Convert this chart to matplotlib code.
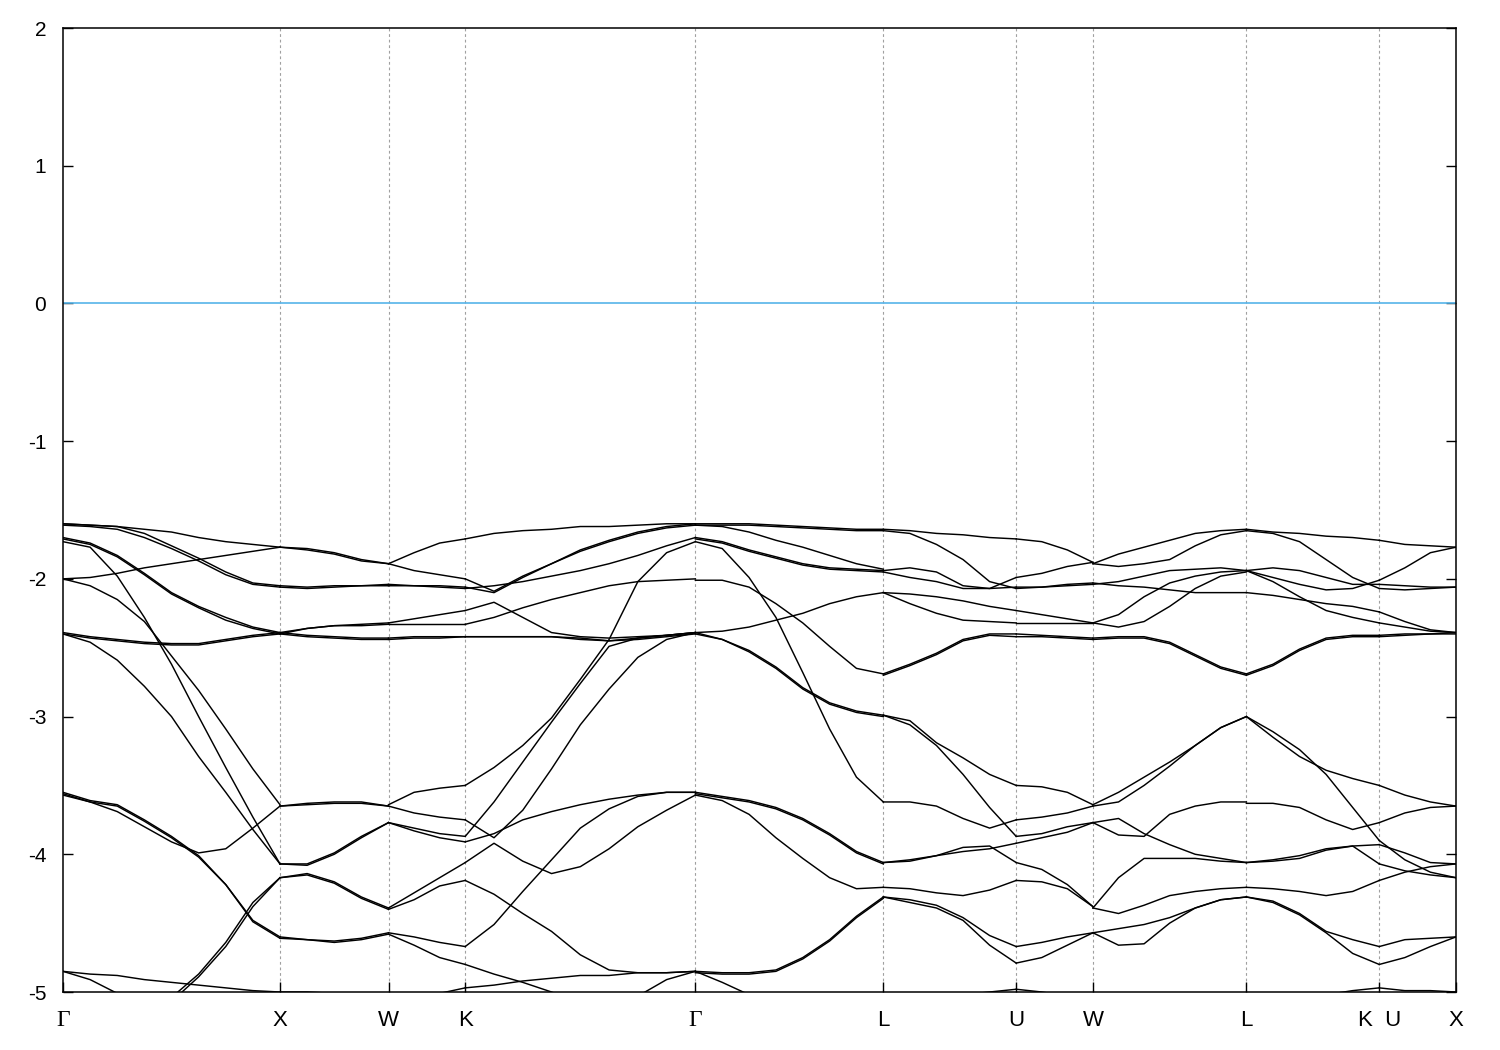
import numpy as np
import matplotlib
matplotlib.use("Agg")
import matplotlib.pyplot as plt

plt.rcParams["axes.unicode_minus"] = False

# high-symmetry points along the FCC path (Gamma-X = 1)
labels = ["Γ", "X", "W", "K", "Γ", "L", "U", "W", "L", "K  U", "X"]
kpos = [0.0, 1.0, 1.5, 1.8536, 2.9142, 3.7802, 4.3926, 4.7462, 5.4533, 6.0657, 6.4193]

# band energies (eV) read per path segment
seg_gx = [
    [-1.60, -1.61, -1.62, -1.64, -1.66, -1.70, -1.73, -1.75, -1.77],
    [-1.60, -1.61, -1.62, -1.67, -1.76, -1.85, -1.95, -2.03, -2.05],
    [-1.61, -1.62, -1.64, -1.70, -1.78, -1.87, -1.97, -2.04, -2.06],
    [-2.00, -1.99, -1.96, -1.92, -1.89, -1.86, -1.83, -1.80, -1.77],
    [-1.70, -1.74, -1.83, -1.96, -2.10, -2.20, -2.28, -2.35, -2.39],
    [-1.71, -1.75, -1.84, -1.97, -2.11, -2.21, -2.30, -2.36, -2.40],
    [-1.73, -1.77, -1.98, -2.28, -2.62, -3.00, -3.37, -3.73, -4.07],
    [-2.00, -2.05, -2.15, -2.31, -2.56, -2.81, -3.09, -3.38, -3.64],
    [-2.39, -2.42, -2.44, -2.46, -2.47, -2.47, -2.44, -2.41, -2.39],
    [-2.40, -2.43, -2.45, -2.47, -2.48, -2.48, -2.45, -2.42, -2.40],
    [-2.40, -2.46, -2.59, -2.78, -3.00, -3.29, -3.55, -3.82, -4.07],
    [-3.57, -3.62, -3.69, -3.80, -3.91, -3.99, -3.96, -3.81, -3.65],
    [-3.55, -3.61, -3.64, -3.75, -3.87, -4.01, -4.22, -4.48, -4.60],
    [-3.56, -3.62, -3.65, -3.76, -3.88, -4.02, -4.22, -4.49, -4.61],
    [-5.64, -5.58, -5.44, -5.25, -5.04, -4.87, -4.64, -4.35, -4.17],
    [-5.66, -5.60, -5.46, -5.27, -5.07, -4.89, -4.67, -4.38, -4.17],
    [-4.85, -4.87, -4.88, -4.91, -4.93, -4.95, -4.97, -4.99, -5.00],
    [-4.85, -4.91, -5.01, -5.13, -5.28, -5.38, -5.46, -5.49, -5.51],
]

seg_xw = [
    [-1.77, -1.78, -1.81, -1.86, -1.89],
    [-1.77, -1.79, -1.82, -1.87, -1.89],
    [-2.05, -2.06, -2.05, -2.05, -2.04],
    [-2.06, -2.07, -2.06, -2.05, -2.05],
    [-2.39, -2.36, -2.34, -2.33, -2.32],
    [-2.40, -2.36, -2.34, -2.34, -2.33],
    [-2.39, -2.41, -2.42, -2.43, -2.43],
    [-2.40, -2.42, -2.43, -2.44, -2.44],
    [-3.65, -3.63, -3.62, -3.62, -3.65],
    [-3.65, -3.64, -3.63, -3.63, -3.65],
    [-4.07, -4.07, -3.99, -3.87, -3.77],
    [-4.07, -4.08, -4.00, -3.88, -3.77],
    [-4.17, -4.14, -4.20, -4.31, -4.39],
    [-4.17, -4.15, -4.21, -4.32, -4.40],
    [-4.60, -4.62, -4.63, -4.61, -4.57],
    [-4.61, -4.62, -4.64, -4.62, -4.58],
    [-5.00, -5.00, -5.01, -5.02, -5.02],
]

seg_wk = [
    [-1.89, -1.81, -1.74, -1.71],
    [-1.89, -1.94, -1.97, -2.00],
    [-2.04, -2.05, -2.05, -2.06],
    [-2.05, -2.05, -2.06, -2.07],
    [-2.32, -2.29, -2.26, -2.23],
    [-2.33, -2.33, -2.33, -2.33],
    [-2.43, -2.42, -2.42, -2.42],
    [-2.44, -2.43, -2.43, -2.42],
    [-3.64, -3.55, -3.52, -3.50],
    [-3.65, -3.70, -3.73, -3.75],
    [-3.77, -3.81, -3.85, -3.87],
    [-3.77, -3.83, -3.88, -3.91],
    [-4.39, -4.28, -4.17, -4.06],
    [-4.40, -4.33, -4.23, -4.19],
    [-4.57, -4.60, -4.64, -4.67],
    [-4.58, -4.66, -4.75, -4.80],
    [-5.02, -5.02, -5.01, -4.97],
]

seg_kg = [
    [-1.71, -1.67, -1.65, -1.64, -1.62, -1.62, -1.61, -1.60, -1.60],
    [-2.00, -2.09, -1.98, -1.89, -1.79, -1.72, -1.66, -1.62, -1.60],
    [-2.06, -2.10, -1.99, -1.89, -1.80, -1.73, -1.67, -1.63, -1.61],
    [-2.07, -2.05, -2.02, -1.98, -1.94, -1.89, -1.83, -1.76, -1.70],
    [-2.33, -2.28, -2.21, -2.15, -2.10, -2.05, -2.02, -2.01, -2.00],
    [-2.23, -2.17, -2.28, -2.39, -2.42, -2.43, -2.42, -2.41, -2.39],
    [-2.42, -2.42, -2.42, -2.42, -2.43, -2.45, -2.43, -2.41, -2.39],
    [-2.42, -2.42, -2.42, -2.42, -2.44, -2.45, -2.44, -2.42, -2.40],
    [-3.50, -3.37, -3.21, -3.01, -2.73, -2.44, -2.02, -1.81, -1.73],
    [-3.87, -3.62, -3.33, -3.04, -2.76, -2.49, -2.43, -2.41, -2.39],
    [-3.75, -3.88, -3.68, -3.38, -3.06, -2.80, -2.57, -2.44, -2.39],
    [-3.91, -3.85, -3.75, -3.69, -3.64, -3.60, -3.57, -3.55, -3.55],
    [-4.06, -3.92, -4.05, -4.14, -4.09, -3.96, -3.80, -3.68, -3.57],
    [-4.19, -4.29, -4.43, -4.56, -4.73, -4.84, -4.86, -4.86, -4.85],
    [-4.67, -4.51, -4.27, -4.04, -3.81, -3.67, -3.58, -3.55, -3.55],
    [-4.80, -4.87, -4.93, -5.00, -5.08, -5.12, -5.03, -4.91, -4.85],
    [-4.97, -4.95, -4.92, -4.90, -4.88, -4.88, -4.86, -4.86, -4.85],
]

seg_gl = [
    [-1.60, -1.60, -1.60, -1.61, -1.62, -1.63, -1.64, -1.64],
    [-1.61, -1.61, -1.61, -1.62, -1.63, -1.64, -1.65, -1.65],
    [-1.61, -1.62, -1.66, -1.72, -1.77, -1.83, -1.89, -1.93],
    [-1.70, -1.73, -1.79, -1.84, -1.89, -1.92, -1.93, -1.94],
    [-1.71, -1.74, -1.80, -1.85, -1.90, -1.93, -1.94, -1.95],
    [-1.73, -1.78, -1.99, -2.28, -2.68, -3.09, -3.44, -3.62],
    [-2.01, -2.01, -2.06, -2.18, -2.32, -2.49, -2.65, -2.69],
    [-2.39, -2.38, -2.35, -2.30, -2.25, -2.18, -2.13, -2.10],
    [-2.39, -2.44, -2.52, -2.64, -2.79, -2.90, -2.96, -2.99],
    [-2.40, -2.44, -2.53, -2.65, -2.80, -2.91, -2.97, -3.00],
    [-3.55, -3.58, -3.61, -3.66, -3.74, -3.85, -3.98, -4.06],
    [-3.56, -3.59, -3.62, -3.67, -3.75, -3.86, -3.99, -4.07],
    [-3.57, -3.61, -3.71, -3.88, -4.03, -4.17, -4.25, -4.24],
    [-4.85, -4.86, -4.86, -4.84, -4.75, -4.62, -4.45, -4.31],
    [-4.86, -4.87, -4.87, -4.85, -4.76, -4.63, -4.46, -4.32],
    [-4.85, -4.93, -5.02, -5.09, -5.14, -5.17, -5.17, -5.17],
]

seg_lu = [
    [-1.64, -1.65, -1.67, -1.68, -1.70, -1.71],
    [-1.65, -1.67, -1.75, -1.86, -2.02, -2.07],
    [-1.94, -1.92, -1.95, -2.05, -2.07, -1.99],
    [-1.95, -1.99, -2.02, -2.07, -2.07, -2.06],
    [-2.10, -2.11, -2.13, -2.16, -2.20, -2.23],
    [-2.10, -2.18, -2.25, -2.30, -2.31, -2.32],
    [-2.69, -2.62, -2.54, -2.44, -2.40, -2.40],
    [-2.70, -2.63, -2.55, -2.45, -2.41, -2.42],
    [-2.99, -3.03, -3.19, -3.30, -3.42, -3.50],
    [-2.99, -3.06, -3.21, -3.42, -3.66, -3.87],
    [-3.62, -3.62, -3.65, -3.74, -3.81, -3.75],
    [-4.06, -4.04, -4.01, -3.95, -3.94, -4.06],
    [-4.06, -4.05, -4.01, -3.98, -3.96, -3.92],
    [-4.24, -4.25, -4.28, -4.30, -4.26, -4.19],
    [-4.31, -4.33, -4.37, -4.46, -4.59, -4.67],
    [-4.31, -4.35, -4.39, -4.48, -4.66, -4.79],
    [-5.13, -5.09, -5.06, -5.02, -5.00, -4.98],
]

seg_uw = [
    [-1.71, -1.73, -1.79, -1.88],
    [-1.99, -1.96, -1.91, -1.88],
    [-2.07, -2.06, -2.04, -2.03],
    [-2.06, -2.06, -2.05, -2.04],
    [-2.23, -2.26, -2.29, -2.32],
    [-2.32, -2.32, -2.32, -2.32],
    [-2.40, -2.41, -2.42, -2.43],
    [-2.42, -2.42, -2.43, -2.44],
    [-3.50, -3.51, -3.55, -3.64],
    [-3.87, -3.85, -3.80, -3.77],
    [-3.75, -3.73, -3.70, -3.65],
    [-4.06, -4.11, -4.22, -4.38],
    [-3.92, -3.88, -3.84, -3.77],
    [-4.19, -4.20, -4.25, -4.38],
    [-4.67, -4.64, -4.60, -4.57],
    [-4.79, -4.75, -4.66, -4.57],
    [-4.98, -5.00, -5.03, -5.06],
]

seg_wl = [
    [-1.89, -1.82, -1.77, -1.72, -1.67, -1.65, -1.64],
    [-1.89, -1.91, -1.89, -1.86, -1.76, -1.68, -1.65],
    [-2.03, -2.05, -2.06, -2.08, -2.10, -2.10, -2.10],
    [-2.04, -2.02, -1.98, -1.94, -1.93, -1.92, -1.94],
    [-2.32, -2.26, -2.13, -2.03, -1.98, -1.95, -1.94],
    [-2.32, -2.35, -2.31, -2.20, -2.07, -1.98, -1.95],
    [-2.43, -2.42, -2.42, -2.46, -2.55, -2.64, -2.69],
    [-2.44, -2.43, -2.43, -2.47, -2.56, -2.65, -2.70],
    [-3.64, -3.55, -3.44, -3.33, -3.21, -3.08, -3.00],
    [-3.65, -3.62, -3.50, -3.36, -3.21, -3.08, -3.00],
    [-3.77, -3.74, -3.85, -3.93, -4.00, -4.03, -4.06],
    [-3.77, -3.86, -3.87, -3.71, -3.65, -3.62, -3.62],
    [-4.39, -4.43, -4.37, -4.30, -4.27, -4.25, -4.24],
    [-4.39, -4.17, -4.03, -4.03, -4.03, -4.05, -4.06],
    [-4.57, -4.54, -4.51, -4.46, -4.39, -4.33, -4.31],
    [-4.57, -4.66, -4.65, -4.50, -4.39, -4.33, -4.31],
]

seg_lk = [
    [-1.64, -1.66, -1.67, -1.69, -1.70, -1.72],
    [-1.65, -1.67, -1.73, -1.86, -1.99, -2.07],
    [-1.94, -1.92, -1.94, -1.99, -2.04, -2.04],
    [-1.94, -1.99, -2.04, -2.08, -2.07, -2.01],
    [-1.94, -2.02, -2.13, -2.23, -2.28, -2.32],
    [-2.10, -2.12, -2.15, -2.18, -2.20, -2.24],
    [-2.69, -2.62, -2.51, -2.43, -2.41, -2.41],
    [-2.70, -2.63, -2.52, -2.44, -2.42, -2.42],
    [-3.00, -3.15, -3.29, -3.39, -3.45, -3.50],
    [-3.00, -3.11, -3.24, -3.42, -3.66, -3.90],
    [-3.63, -3.63, -3.66, -3.75, -3.82, -3.77],
    [-4.06, -4.04, -4.01, -3.96, -3.94, -4.07],
    [-4.06, -4.05, -4.03, -3.97, -3.94, -3.93],
    [-4.24, -4.25, -4.27, -4.30, -4.27, -4.19],
    [-4.31, -4.34, -4.43, -4.56, -4.62, -4.67],
    [-4.31, -4.35, -4.44, -4.57, -4.72, -4.80],
    [-5.13, -5.09, -5.06, -5.02, -4.99, -4.97],
]

seg_ux = [
    [-1.72, -1.75, -1.76, -1.77],
    [-2.07, -2.08, -2.07, -2.06],
    [-2.04, -2.05, -2.06, -2.06],
    [-2.01, -1.92, -1.81, -1.77],
    [-2.24, -2.31, -2.37, -2.39],
    [-2.32, -2.35, -2.38, -2.39],
    [-2.41, -2.40, -2.40, -2.39],
    [-2.42, -2.41, -2.40, -2.40],
    [-3.50, -3.57, -3.62, -3.65],
    [-3.90, -4.04, -4.13, -4.17],
    [-3.77, -3.70, -3.66, -3.65],
    [-4.07, -4.12, -4.15, -4.17],
    [-3.93, -3.99, -4.06, -4.07],
    [-4.19, -4.13, -4.09, -4.07],
    [-4.67, -4.62, -4.61, -4.60],
    [-4.80, -4.75, -4.67, -4.60],
    [-4.97, -4.99, -4.99, -5.00],
]

segments = [(0, 1, seg_gx), (1, 2, seg_xw), (2, 3, seg_wk), (3, 4, seg_kg),
            (4, 5, seg_gl), (5, 6, seg_lu), (6, 7, seg_uw), (7, 8, seg_wl),
            (8, 9, seg_lk), (9, 10, seg_ux)]

fig = plt.figure(figsize=(15, 10.5), dpi=100)
ax = fig.add_axes([63 / 1500, 1 - 992 / 1050, 1393 / 1500, 964 / 1050])

for a, b, bands in segments:
    for e in bands:
        k = np.linspace(kpos[a], kpos[b], len(e))
        ax.plot(k, e, color="black", lw=1.05, zorder=3)

for x in kpos[1:-1]:
    ax.axvline(x, color="#a0a0a0", lw=0.8, ls=(0, (2.5, 2.5)), zorder=1)
ax.axhline(0, color="#56b4e9", lw=1.2, zorder=2)

ax.set_xlim(kpos[0], kpos[-1])
ax.set_ylim(-5, 2)
ax.set_yticks(range(-5, 3))
ax.set_xticks(kpos)
ax.set_xticklabels(labels)
for sp in ax.spines.values():
    sp.set_linewidth(1.1)

ax.tick_params(axis="y", direction="in", length=7, width=1.0, right=True,
               labelsize=15, pad=12)
ax.tick_params(axis="x", direction="in", length=7, width=1.0, top=False,
               labelsize=16, pad=13)
for t in ax.get_yticklabels():
    t.set_fontfamily("Liberation Sans")
for t in ax.get_xticklabels():
    if t.get_text() == "Γ":
        t.set_fontfamily("Liberation Serif")
        t.set_fontsize(17)
    else:
        t.set_fontfamily("Liberation Sans")

fig.savefig("out.png", dpi=100, facecolor="white")
